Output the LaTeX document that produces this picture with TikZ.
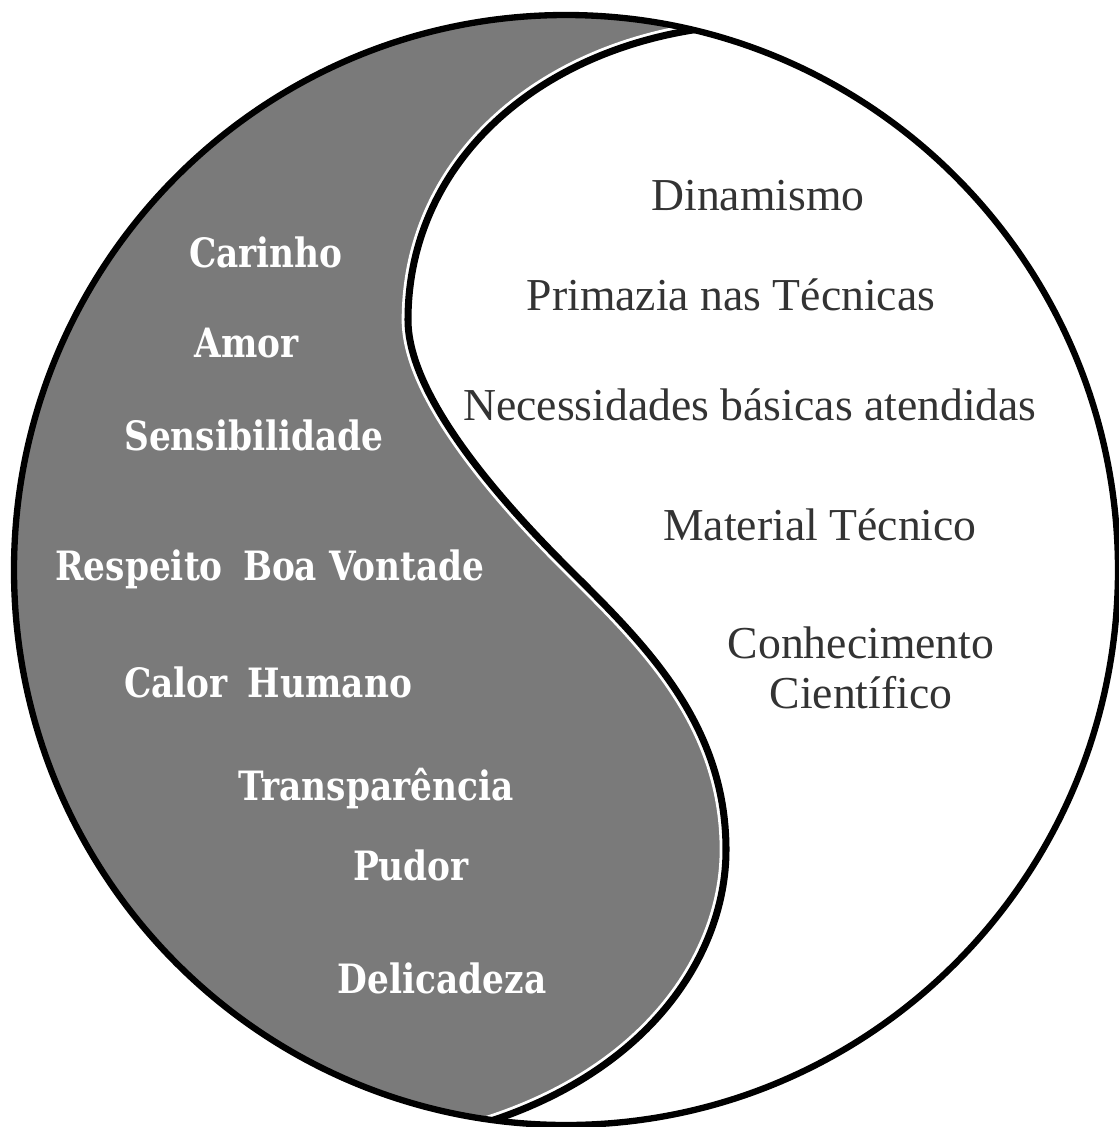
\documentclass[tikz,border=0pt]{standalone}
\usepackage{fontspec}
\setmainfont{Liberation Serif}
\newfontfamily\slabfont[FakeStretch=0.85]{DejaVu Serif}
\definecolor{lobegray}{RGB}{122,122,122}
\tikzset{
  softword/.style={font=\slabfont\bfseries\fontsize{11.5}{13}\selectfont, text=white, inner sep=0pt, anchor=base},
  hardword/.style={font=\fontsize{13}{14}\selectfont, text=black!80, inner sep=0pt, anchor=base, align=center}
}
\begin{document}
\begin{tikzpicture}
% yin-yang, one unit per pixel
\def\pxsz{0.1mm}
\providecommand{\lobeLineWidth}{2pt}
\providecommand{\haloLineWidth}{3.6pt}
\providecommand{\rimLineWidth}{1.8pt}
\begin{scope}[x=\pxsz, y=-\pxsz, line cap=round, line join=round]
  % Page
  \fill[white] (0,0) rectangle (1119,1127);
  \useasboundingbox (0,0) rectangle (1119,1127);
  % Gray lobe, cut by the rim; the S line is stroked twice (halo, then ink)
  \begin{scope}
    \clip (566,570) ellipse [x radius=552, y radius=555];
    \fill[lobegray, postaction={draw=white, line width=\haloLineWidth}, postaction={draw=black, line width=\lobeLineWidth}]
      (760,24) .. controls (560,28) and (408,150) .. (408,320)
      .. controls (408,400) and (510,510) .. (566,566)
      .. controls (640,640) and (726,720) .. (726,850)
      .. controls (726,960) and (640,1090) .. (440,1135)
      -- (-30,1160) -- (-30,-30) -- (760,-30) -- cycle;
  \end{scope}
  % Rim
  \draw[black, line width=\rimLineWidth] (566,570) ellipse [x radius=552, y radius=555];
  % Left words
  \node[softword] (carinho) at (266,267) {Carinho};
  \node[softword] (amor) at (247,357) {Amor};
  \node[softword] (sensib) at (254,450) {Sensibilidade};
  \node[softword] (respeito) at (270,580) {Respeito\enspace Boa Vontade};
  \node[softword] (calor) at (268,697) {Calor\enspace Humano};
  \node[softword] (transp) at (376,800) {Transparência};
  \node[softword] (pudor) at (411,880) {Pudor};
  \node[softword] (delic) at (442,993) {Delicadeza};
  % Right words
  \node[hardword] (dinam) at (758,210) {Dinamismo};
  \node[hardword] (primazia) at (731,310) {Primazia nas Técnicas};
  \node[hardword] (necess) at (750,420) {Necessidades básicas atendidas};
  \node[hardword] (material) at (820,540) {Material Técnico};
  \node[hardword] (conhec) at (861,708) {Conhecimento\\Científico};
\end{scope}
\end{tikzpicture}
\end{document}
